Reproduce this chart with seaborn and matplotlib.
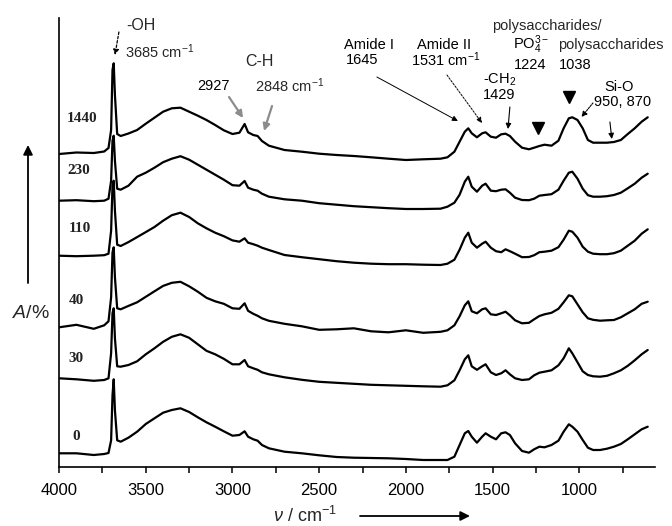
import numpy as np
import pandas as pd
import matplotlib
matplotlib.use("Agg")
import matplotlib.pyplot as plt
import seaborn as sns
from matplotlib.ticker import MultipleLocator

# ---------------- data ----------------
wavenumber = [4000, 3900, 3800, 3740, 3715, 3700, 3692, 3685, 3678, 3665,
              3645, 3600, 3550, 3500, 3450, 3400, 3350, 3300, 3250, 3200,
              3150, 3100, 3050, 3000, 2960, 2930, 2910, 2880, 2855, 2830,
              2790, 2700, 2600, 2500, 2400, 2300, 2200, 2100, 2000, 1900,
              1800, 1760, 1720, 1690, 1660, 1640, 1620, 1590, 1560, 1540,
              1510, 1480, 1450, 1425, 1400, 1370, 1330, 1290, 1260, 1230,
              1200, 1160, 1120, 1090, 1060, 1040, 1010, 980, 950, 920,
              880, 840, 800, 760, 720, 680, 640, 605]

h_1440 = [0, 1.5, 1, 2.5, 6, 24, 84, 90.7, 59, 20,
          18, 20.5, 24, 30.3, 36.3, 42.3, 45.7, 46.3, 42.3, 38.3,
          34, 29, 23.7, 20, 21.3, 30, 21.7, 19, 18, 13,
          8.3, 4, 2.3, 0.3, -1, -2, -3.3, -4.7, -6, -5.3,
          -4.7, -3.3, 2.3, 12.3, 22.3, 25.7, 20.7, 16.7, 20.7, 21.7,
          17.3, 16.3, 19.7, 20.3, 18, 12.3, 6.3, 4.7, 6.3, 8,
          9.3, 8.3, 13.3, 25.7, 35.7, 36.7, 34, 25.7, 14, 11.3,
          11.3, 11.3, 12, 14, 20, 25.7, 32.3, 36.7]

h_230 = [0, 0.5, -0.5, 0, 2, 20, 60, 65, 40, 12,
         11, 15, 24, 28, 33, 38.5, 42, 44.5, 41, 36,
         31, 26, 21, 15.5, 15, 19.7, 13, 11, 10, 7,
         4, 1.4, 0, -2.5, -4, -5.5, -6.5, -7.5, -8.3, -8.3,
         -8, -6, -2, 6, 19, 24, 14, 9, 15, 17,
         10, 9.5, 11, 11.4, 8, 3, 0.7, 0.5, 2, 5,
         5.7, 6.5, 11, 20, 28, 29, 22, 12, 5.5, 4,
         4, 4.5, 5.7, 8, 12.4, 17, 23, 27]

h_110 = [0, -0.5, 0, 0.5, 2, 25, 70, 75, 45, 11,
         9.7, 13.6, 18.6, 23.6, 28.7, 35, 40.5, 43, 38.7, 32.4,
         27.4, 23, 19.5, 15.3, 14, 17.4, 13, 11.5, 10, 8,
         5.7, 0.7, -1.5, -3.5, -5.5, -7, -8, -8.5, -8.5, -9,
         -9.3, -8, -4, 6, 18, 23, 13, 8, 12, 14,
         8, 4.5, 3.5, 6.4, 4.5, 2, -1.5, -1.3, 0.5, 3.5,
         4, 5, 8.5, 16, 25, 24, 18, 9, 4, 2,
         1.5, 1.5, 2.5, 5, 10, 15, 22, 26.4]

h_40 = [0, 2.5, -1.5, 2, 6, 30, 75, 80, 50, 19,
        18, 21.4, 25, 30.5, 36, 41.4, 44.5, 45.5, 41, 35.6,
        29.5, 26, 23.5, 19, 18.5, 24, 16.5, 13.5, 11.5, 9,
        6.5, 3.5, 1, -2.5, -2, -1, -4, -5, -3, -5.5,
        -4.5, -3, 2, 11, 22, 26, 16, 14, 18, 19,
        13, 12.3, 14, 15.6, 12, 7, 4, 4.5, 8, 11.3,
        13, 14.5, 18.5, 25, 32, 31, 23, 15, 9, 7.5,
        6.6, 7, 7.3, 10, 14, 18, 23.5, 25.6]

h_30 = [0, -1, -2.5, -1.7, 0, 25, 65, 70, 40, 12,
        11.6, 13.3, 17, 24, 30, 36.5, 41.5, 44, 40.5, 34,
        27.5, 24, 19.5, 14, 14, 18.3, 12, 10, 8.5, 6,
        4, 1, -1.5, -3.5, -4.5, -5.5, -6.5, -7, -7.5, -8,
        -8.4, -7, -2, 8, 19, 23, 12, 8.5, 12, 14,
        6, 3.3, 5, 8, 4, 0, -1.7, -1, 3, 5.6,
        6.6, 8, 13, 20, 30, 25, 16, 7, 3.3, 2,
        1.6, 2.5, 5, 8, 12.5, 18, 24, 28.3]

h_0 = [0, 0, -1.7, -0.7, 0.3, 13, 58, 74, 43, 13,
       11.6, 15.6, 21.6, 29.3, 35, 40.6, 43.3, 45, 41.3, 36,
       31, 26.6, 22, 17.6, 18.3, 22, 16.6, 14, 12.6, 8.3,
       5, 1.6, 0, -2, -3.7, -4.4, -4.7, -5, -5.7, -6.7,
       -6.7, -6.7, -3.4, 8.3, 20, 22.3, 16.6, 10.6, 16.6, 20,
       16.6, 14, 20, 21, 18.3, 10, 2.3, 0.6, 4, 6.6,
       6, 8.3, 12.6, 21.6, 29, 26.6, 21.6, 13.3, 5.6, 3.3,
       3.3, 4.6, 6.6, 9.3, 14, 19, 24, 26.6]

samples = ["1440", "230", "110", "40", "30", "0"]
heights = [h_1440, h_230, h_110, h_40, h_30, h_0]
offsets = [312.7, 266.0, 211.0, 139.4, 88.4, 13.4]
label_x = [3868, 3885, 3879, 3902, 3902, 3904]
label_y = [347.7, 296.0, 237.7, 166.0, 108.4, 30.0]

# ---------------- style ----------------
sns.set_theme(style="white")
plt.rcParams["font.family"] = ["Liberation Sans", "DejaVu Sans"]
plt.rcParams["mathtext.fontset"] = "custom"
plt.rcParams["mathtext.rm"] = "Liberation Sans"
plt.rcParams["mathtext.it"] = "Liberation Sans:italic"
plt.rcParams["mathtext.bf"] = "Liberation Sans:bold"

rows = []
for s, off, h in zip(samples, offsets, heights):
    assert len(h) == len(wavenumber)
    for w, v in zip(wavenumber, h):
        rows.append((s, w, v + off))
df = pd.DataFrame(rows, columns=["sample", "wavenumber", "A"])

W, H = 672, 526
fig = plt.figure(figsize=(W / 100, H / 100), dpi=100)
ax = fig.add_axes([59.1 / W, 1 - 466.7 / H, (655 - 59.1) / W, (466.7 - 18.3) / H])

sns.lineplot(data=df, x="wavenumber", y="A", hue="sample",
             palette={s: "black" for s in samples}, estimator=None,
             sort=False, legend=False, lw=1.6, ax=ax)

ax.set_xlim(4000, 563)
ax.set_ylim(0, 448.4)
ax.set_xlabel("")
ax.set_ylabel("")
ax.set_yticks([])
ax.xaxis.set_major_locator(MultipleLocator(500))
ax.xaxis.set_minor_locator(MultipleLocator(250))
ax.tick_params(axis="x", which="both", bottom=True, direction="out",
               length=4.5, width=1.1, color="black", labelsize=12, pad=7,
               labelcolor="black")
for side in ["top", "right"]:
    ax.spines[side].set_visible(False)
for side in ["left", "bottom"]:
    ax.spines[side].set_color("black")
    ax.spines[side].set_linewidth(1.2)

# sample labels
for s, lx, ly in zip(samples, label_x, label_y):
    ax.text(lx, ly, s, fontfamily="Liberation Serif", fontweight="bold",
            fontsize=11, ha="center", va="center", color="#222222")

# ---------------- annotations ----------------
fs = 10.5
txt = dict(fontsize=fs, ha="center", va="center", color="black")
ax.text(3528, 440.7, "-OH", fontsize=11.5, ha="center", va="center")
ax.text(3620, 414.7, "3685 cm$^{-1}$", fontsize=fs, ha="left", va="center")
ax.text(2847, 404.7, "C-H", fontsize=11.5, ha="center", va="center")
ax.text(3107, 380.7, "2927", **txt)
ax.text(2870, 380.7, "2848 cm$^{-1}$", fontsize=fs, ha="left", va="center")
ax.text(1504, 440.7, "polysaccharides/", fontsize=fs, ha="left", va="center")
ax.text(2213, 421.7, "Amide I", **txt)
ax.text(2254, 406.7, "1645", **txt)
ax.text(1781, 421.7, "Amide II", **txt)
ax.text(1769, 406.7, "1531 cm$^{-1}$", **txt)
ax.text(1279, 421.7, "PO$_4^{3-}$", **txt)
ax.text(1123, 421.7, "polysaccharides", fontsize=fs, ha="left", va="center")
ax.text(1284, 401.7, "1224", **txt)
ax.text(1025, 401.7, "1038", **txt)
ax.text(1457, 386.7, "-CH$_2$", **txt)
ax.text(1463, 371.7, "1429", **txt)
ax.text(771, 379.7, "Si-O", **txt)
ax.text(748, 364.7, "950, 870", **txt)

def arrow(tail, head, color="black", ls="-", lw=0.8, ms=8):
    ax.annotate("", xy=head, xytext=tail,
                arrowprops=dict(arrowstyle="-|>", color=color, lw=lw,
                                linestyle=ls, mutation_scale=ms,
                                shrinkA=0, shrinkB=0))

arrow((3655, 434.7), (3678, 411.7), ls=(0, (2, 1.5)), lw=0.9)
arrow((3020, 369.7), (2939, 348.7), color="#8c8c8c", lw=1.6, ms=10)
arrow((2772, 360.7), (2818, 335.7), color="#8c8c8c", lw=1.6, ms=10)
arrow((2167, 389.7), (1700, 345.7), lw=0.7)
arrow((1763, 391.7), (1561, 343.7), ls=(0, (2, 1.5)), lw=0.7)
arrow((1400, 359.7), (1411, 337.7), lw=0.8)
arrow((921, 363.7), (987, 349.7), ls=(0, (1.5, 1)), lw=0.8)
arrow((823, 344.7), (812, 327.7), lw=0.8)
ax.plot([1239, 1059], [338.7, 369.7], ls="none", marker="v",
        markersize=9, color="black")

# y label with up arrow, x label with right arrow (figure pixels)
fig.text(31 / W, 1 - 313 / H, "$A$/%", fontsize=14, ha="center", va="center")
ax.annotate("", xy=(28, H - 145), xycoords="figure pixels",
            xytext=(28, H - 283), textcoords="figure pixels",
            arrowprops=dict(arrowstyle="-|>", color="black", lw=1.3,
                            mutation_scale=14, shrinkA=0, shrinkB=0))
fig.text(305 / W, 10 / H, r"$\nu$ / cm$^{-1}$", fontsize=13,
         ha="center", va="center")
ax.annotate("", xy=(470, 10), xycoords="figure pixels",
            xytext=(360, 10), textcoords="figure pixels",
            arrowprops=dict(arrowstyle="-|>", color="black", lw=1.3,
                            mutation_scale=14, shrinkA=0, shrinkB=0))

fig.savefig("out.png", dpi=100)
